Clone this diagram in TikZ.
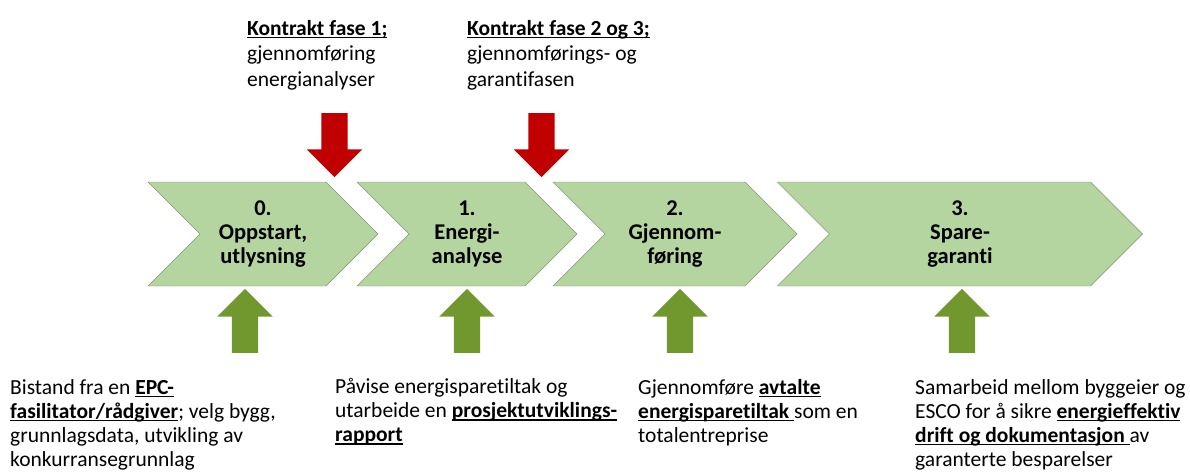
\documentclass[tikz,border=0pt]{standalone}
\usepackage{fontspec}
\setmainfont{Carlito}[Ligatures=NoCommon]
\usetikzlibrary{shapes.symbols,shapes.arrows}
\definecolor{chevgreen}{RGB}{181,213,160}
\definecolor{chevline}{RGB}{128,150,118}
\definecolor{kontraktred}{RGB}{192,0,0}
\definecolor{bistandgreen}{RGB}{113,152,46}
\newcommand\ulbf[1]{\setbox0\hbox{\textbf{#1}}\rlap{\rule[-3.2pt]{\wd0}{1.3pt}}\box0}

\begin{document}
\begin{tikzpicture}[x=1pt,y=-1pt,
  phase/.style={signal,signal from=west,signal to=east,draw=chevline,fill=chevgreen,
    minimum height=104pt,inner sep=0pt,align=center,font=\fontsize{22.5}{24}\selectfont\bfseries},
  blockarrow/.style={single arrow,minimum height=64pt,minimum width=55pt,
    single arrow head extend=14.5pt,inner xsep=0pt,inner ysep=13pt},
  down/.style={blockarrow,rotate=-90,fill=kontraktred},
  up/.style={blockarrow,rotate=90,fill=bistandgreen},
  note/.style={anchor=north west,inner sep=0pt,align=left,font=\fontsize{21.5}{24}\selectfont}]
\useasboundingbox(0,0)rectangle(1190,474);
\node[phase,minimum width=230pt](ph0)at(263,234){0.\\Oppstart,\\utlysning};
\node[phase,minimum width=220pt](ph1)at(467,234){1.\\Energi-\\analyse};
\node[phase,minimum width=244pt](ph2)at(675,234){2.\\Gjennom-\\føring};
\node[phase,minimum width=365pt](ph3)at(960,234){3.\\Spare-\\garanti};
\node[down](kf1)at(334.5,138.5){};
\node[down](kf2)at(541.5,138.5){};
\node[up](b0)at(245,327.5){};
\node[up](b1)at(467,327.5){};
\node[up](b2)at(680,327.5){};
\node[up](b3)at(962,327.5){};
\node[note,font=\fontsize{21.5}{25.5}\selectfont](kt1)at(247,20){\ulbf{Kontrakt fase 1;}\\gjennomføring\\energianalyser};
\node[note,font=\fontsize{21.5}{25.5}\selectfont](kt2)at(467,20){\ulbf{Kontrakt fase 2 og 3;}\\gjennomførings- og\\garantifasen};
\node[note](n0)at(10,379){Bistand fra en \ulbf{EPC-}\\\ulbf{fasilitator/rådgiver}; velg bygg,\\grunnlagsdata, utvikling av\\konkurransegrunnlag};
\node[note](n1)at(335,378){Påvise energisparetiltak og\\utarbeide en \ulbf{prosjektutviklings-}\\\ulbf{rapport}};
\node[note](n2)at(638,379){Gjennomføre \ulbf{avtalte}\\\ulbf{energisparetiltak\ }som en\\totalentreprise};
\node[note](n3)at(915,379){Samarbeid mellom byggeier og\\ESCO for å sikre \ulbf{energieffektiv}\\\ulbf{drift og dokumentasjon\ }av\\garanterte besparelser};
\end{tikzpicture}
\end{document}
